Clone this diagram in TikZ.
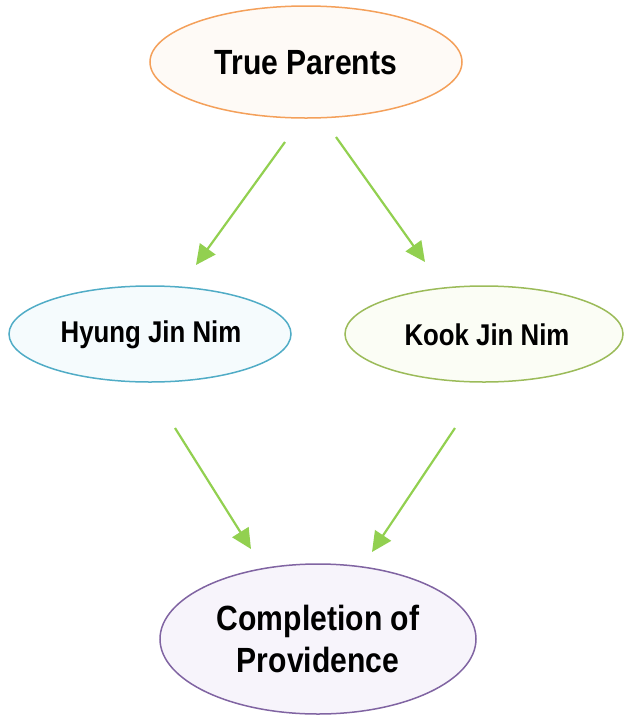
\documentclass[tikz,border=0pt]{standalone}
\usepackage{fontspec}
\setmainfont{Liberation Sans}
\newfontfamily\lblfont[FakeStretch=0.86]{Liberation Sans Bold}
\usetikzlibrary{shapes.geometric,arrows.meta}
\definecolor{arrowgreen}{RGB}{146,208,80}
\definecolor{tpline}{RGB}{244,160,90}
\definecolor{tpfill}{RGB}{254,250,246}
\definecolor{hjline}{RGB}{80,172,198}
\definecolor{hjfill}{RGB}{245,251,253}
\definecolor{kjline}{RGB}{155,187,89}
\definecolor{kjfill}{RGB}{251,253,245}
\definecolor{cpline}{RGB}{128,100,162}
\definecolor{cpfill}{RGB}{247,244,251}
\tikzset{
  oval/.style={ellipse, line width=1.5pt, inner sep=0pt, align=center},
  bigtext/.style={font=\lblfont\fontsize{35}{42}\selectfont, align=center},
  midtext/.style={font=\lblfont\fontsize{30}{30}\selectfont, align=center},
  flow/.style={draw=arrowgreen, line width=2.2pt, -{Triangle[length=20pt,width=19pt]}}
}
\begin{document}
\begin{tikzpicture}[x=1pt,y=-1pt]
\useasboundingbox (0,0) rectangle (624,716);
\node[oval, draw=tpline, fill=tpfill, minimum width=312pt, minimum height=112pt] (tp) at (306,62) {};
\node[bigtext] (tpt) at (306,63) {True Parents};
\node[oval, draw=hjline, fill=hjfill, minimum width=282pt, minimum height=96pt] (hj) at (150,334) {};
\node[midtext] (hjt) at (151,335) {Hyung Jin Nim};
\node[oval, draw=kjline, fill=kjfill, minimum width=278pt, minimum height=96pt] (kj) at (484,334) {};
\node[midtext] (kjt) at (487,335) {Kook Jin Nim};
\node[oval, draw=cpline, fill=cpfill, minimum width=316pt, minimum height=150pt] (cp) at (318,639) {};
\node[bigtext] (cpt) at (318,639) {Completion of\\Providence};
\coordinate (a1s) at (285,142);
\coordinate (a1e) at (196,265);
\coordinate (a2s) at (336,137);
\coordinate (a2e) at (425,262);
\coordinate (a3s) at (175,428);
\coordinate (a3e) at (251,549);
\coordinate (a4s) at (455,428);
\coordinate (a4e) at (372,552);
\draw[flow] (a1s) -- (a1e);
\draw[flow] (a2s) -- (a2e);
\draw[flow] (a3s) -- (a3e);
\draw[flow] (a4s) -- (a4e);
\end{tikzpicture}
\end{document}
